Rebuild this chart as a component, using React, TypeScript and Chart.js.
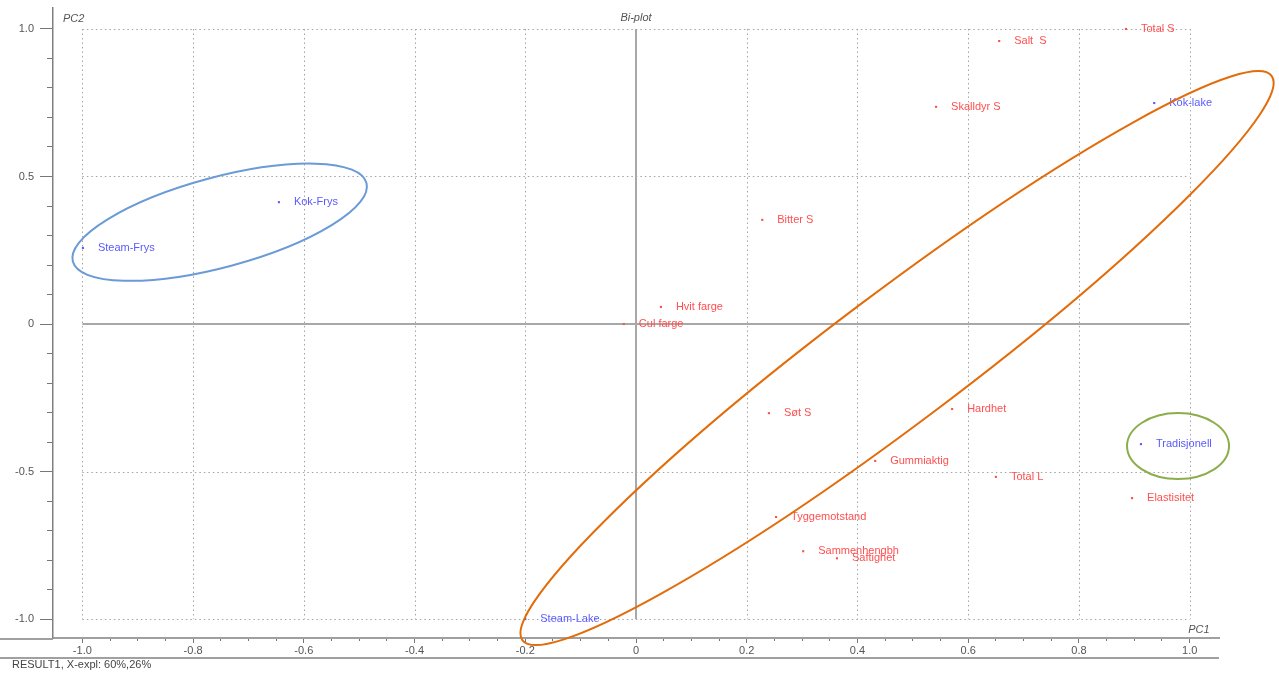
import React, { useEffect, useRef } from 'react';
import { Chart, registerables } from 'chart.js';

Chart.register(...registerables);

// ---- data ----
const variableNames = [
  'Total S', 'Salt  S', 'Skalldyr S', 'Bitter S', 'Hvit farge', 'Cul farge', 'Søt S',
  'Hardhet', 'Gummiaktig', 'Total L', 'Elastisitet', 'Tyggemotstand', 'Sammenhengbh', 'Saftighet',
];
const variablePC1 = [0.885, 0.656, 0.542, 0.228, 0.045, -0.022, 0.24, 0.571, 0.432, 0.65, 0.896, 0.253, 0.302, 0.363];
const variablePC2 = [1.0, 0.959, 0.736, 0.353, 0.058, 0.0, -0.302, -0.288, -0.464, -0.518, -0.59, -0.654, -0.77, -0.794];

const sampleNames = ['Kok-lake', 'Kok-Frys', 'Steam-Frys', 'Tradisjonell', 'Steam-Lake'];
const samplePC1 = [0.936, -0.645, -0.999, 0.912, -0.2];
const samplePC2 = [0.749, 0.413, 0.258, -0.407, -1.0];

// ---- axes / ticks ----
const xMajorTicks = [-1.0, -0.8, -0.6, -0.4, -0.2, 0, 0.2, 0.4, 0.6, 0.8, 1.0];
const xMinorStep = 0.05;
const yMajorTicks = [-1.0, -0.5, 0, 0.5, 1.0];
const yMinorStep = 0.1;
const gridXValues = [-1.0, -0.8, -0.6, -0.4, -0.2, 0.2, 0.4, 0.6, 0.8, 1.0];
const gridYValues = [-1.0, -0.5, 0.5, 1.0];
const xRange = [-1.053, 1.053];
const yRange = [-1.064, 1.071];

const titleText = 'Bi-plot';
const xAxisName = 'PC1';
const yAxisName = 'PC2';
const footerText = 'RESULT1, X-expl: 60%,26%';

// ---- annotation ellipses (center in data units, radii in px, angle in degrees) ----
const ellipseCenterPC1 = [-0.752, 0.4715, 0.979];
const ellipseCenterPC2 = [0.345, -0.1153, -0.4136];
const ellipseRadiusX = [152, 469, 51];
const ellipseRadiusY = [45, 65, 33];
const ellipseAngle = [-15, -37, 0];
const ellipseColors = ['#6b9bd6', '#e36c0a', '#8cae4a'];

const RED = '#ff4f4f';
const BLUE = '#5a5aff';
const FONT = '"Liberation Sans", Arial, sans-serif';

function stepTicks(min: number, max: number, step: number): number[] {
  const out: number[] = [];
  const n = Math.round((max - min) / step);
  for (let i = 0; i <= n; i++) out.push(Math.round((min + i * step) * 1000) / 1000);
  return out;
}
const isIn = (arr: number[], v: number) => arr.some((a) => Math.abs(a - v) < 1e-6);
const fmt = (v: number) => (Math.abs(v) < 1e-9 ? '0' : v.toFixed(1));

const gridPlugin = {
  id: 'biplotGrid',
  beforeDatasetsDraw(chart: any) {
    const { ctx, scales } = chart;
    const xs = scales.x, ys = scales.y;
    ctx.save();
    ctx.strokeStyle = '#a4a4a4';
    ctx.lineWidth = 1;
    ctx.setLineDash([1.5, 3]);
    const yTop = ys.getPixelForValue(1), yBot = ys.getPixelForValue(-1);
    const xL = xs.getPixelForValue(-1), xR = xs.getPixelForValue(1);
    gridXValues.forEach((v) => {
      const px = Math.round(xs.getPixelForValue(v)) + 0.5;
      ctx.beginPath(); ctx.moveTo(px, yTop); ctx.lineTo(px, yBot); ctx.stroke();
    });
    gridYValues.forEach((v) => {
      const py = Math.round(ys.getPixelForValue(v)) + 0.5;
      ctx.beginPath(); ctx.moveTo(xL, py); ctx.lineTo(xR, py); ctx.stroke();
    });
    ctx.setLineDash([]);
    ctx.strokeStyle = '#a8a8a8';
    ctx.lineWidth = 2;
    const x0 = xs.getPixelForValue(0), y0 = ys.getPixelForValue(0);
    ctx.beginPath(); ctx.moveTo(xL, y0); ctx.lineTo(xR, y0); ctx.stroke();
    ctx.beginPath(); ctx.moveTo(x0, yTop); ctx.lineTo(x0, yBot); ctx.stroke();
    ctx.restore();
  },
};

const labelPlugin = {
  id: 'pointLabels',
  afterDatasetsDraw(chart: any) {
    const { ctx } = chart;
    ctx.save();
    ctx.font = `11px ${FONT}`;
    ctx.textBaseline = 'middle';
    ctx.textAlign = 'left';
    chart.data.datasets.forEach((ds: any, di: number) => {
      const meta = chart.getDatasetMeta(di);
      ctx.fillStyle = ds.borderColor;
      meta.data.forEach((pt: any, i: number) => {
        ctx.fillText(ds.names[i], pt.x + 15, pt.y);
      });
    });
    ctx.restore();
  },
};

const decorPlugin = {
  id: 'decor',
  afterDraw(chart: any) {
    const { ctx, scales, chartArea } = chart;
    const xs = scales.x, ys = scales.y;
    ctx.save();
    // extra axis lines
    ctx.strokeStyle = '#a0a0a0';
    ctx.lineWidth = 2;
    ctx.beginPath(); ctx.moveTo(0, chartArea.bottom + 1); ctx.lineTo(chartArea.left, chartArea.bottom + 1); ctx.stroke();
    ctx.beginPath(); ctx.moveTo(0, chartArea.bottom + 20); ctx.lineTo(chartArea.right, chartArea.bottom + 20); ctx.stroke();

    // texts
    ctx.fillStyle = '#555';
    ctx.font = `italic 11px ${FONT}`;
    ctx.textBaseline = 'middle';
    ctx.textAlign = 'left';
    ctx.fillText(yAxisName, chartArea.left + 10, ys.getPixelForValue(1) - 10);
    ctx.textAlign = 'center';
    ctx.fillText(titleText, xs.getPixelForValue(0), ys.getPixelForValue(1) - 11);
    ctx.textAlign = 'right';
    ctx.fillText(xAxisName, xs.getPixelForValue(1) + 20, chartArea.bottom - 8);
    ctx.font = `11px ${FONT}`;
    ctx.fillStyle = '#444';
    ctx.textAlign = 'left';
    ctx.fillText(footerText, 12, chartArea.bottom + 27);

    // ellipses
    ctx.lineWidth = 2;
    ellipseCenterPC1.forEach((cx, i) => {
      ctx.strokeStyle = ellipseColors[i];
      ctx.beginPath();
      ctx.ellipse(
        xs.getPixelForValue(cx), ys.getPixelForValue(ellipseCenterPC2[i]),
        ellipseRadiusX[i], ellipseRadiusY[i], (ellipseAngle[i] * Math.PI) / 180, 0, Math.PI * 2,
      );
      ctx.stroke();
    });
    ctx.restore();
  },
};

export default function App() {
  const ref = useRef<HTMLCanvasElement>(null);
  useEffect(() => {
    const xTicks = stepTicks(xMajorTicks[0], xMajorTicks[xMajorTicks.length - 1], xMinorStep);
    const yTicks = stepTicks(yMajorTicks[0], yMajorTicks[yMajorTicks.length - 1], yMinorStep);
    const chart = new Chart(ref.current as HTMLCanvasElement, {
      type: 'scatter',
      data: {
        datasets: [
          {
            label: 'Variables',
            data: variablePC1.map((x, i) => ({ x, y: variablePC2[i] })),
            names: variableNames,
            backgroundColor: RED,
            borderColor: RED,
            pointStyle: 'rect',
            pointRadius: 1.5,
            borderWidth: 0,
          } as any,
          {
            label: 'Samples',
            data: samplePC1.map((x, i) => ({ x, y: samplePC2[i] })),
            names: sampleNames,
            backgroundColor: BLUE,
            borderColor: BLUE,
            pointStyle: 'rect',
            pointRadius: 1.5,
            borderWidth: 0,
          } as any,
        ],
      },
      options: {
        animation: false,
        responsive: false,
        devicePixelRatio: 1,
        layout: { padding: { left: 0, top: 8, right: 60, bottom: 0 } },
        plugins: { legend: { display: false }, tooltip: { enabled: false } },
        events: [],
        scales: {
          x: {
            type: 'linear',
            min: xRange[0],
            max: xRange[1],
            afterBuildTicks: (scale: any) => { scale.ticks = xTicks.map((v) => ({ value: v })); },
            afterFit: (scale: any) => {
              scale.height = 37;
              scale.paddingLeft = 0;
              scale.paddingRight = 0;
            },
            ticks: {
              autoSkip: false,
              maxRotation: 0,
              minRotation: 0,
              padding: 1,
              color: '#555',
              font: { family: FONT, size: 11 },
              callback: (v: any) => (isIn(xMajorTicks, Number(v)) ? fmt(Number(v)) : ''),
            },
            grid: {
              display: true,
              drawOnChartArea: false,
              drawTicks: true,
              tickLength: 5,
              tickColor: '#777',
              tickWidth: 1,
              tickBorderDash: (ctx: any) => (isIn(xMajorTicks, ctx.tick.value) ? [] : [2, 20]),
            },
            border: { display: true, color: '#a0a0a0', width: 2 },
          },
          y: {
            type: 'linear',
            min: yRange[0],
            max: yRange[1],
            afterBuildTicks: (scale: any) => { scale.ticks = yTicks.map((v) => ({ value: v })); },
            afterFit: (scale: any) => {
              scale.width = 53;
              scale.paddingTop = 0;
              scale.paddingBottom = 0;
            },
            ticks: {
              autoSkip: false,
              padding: 6,
              color: '#555',
              font: { family: FONT, size: 11 },
              callback: (v: any) => (isIn(yMajorTicks, Number(v)) ? fmt(Number(v)) : ''),
            },
            grid: {
              display: true,
              drawOnChartArea: false,
              drawTicks: true,
              tickLength: 13,
              tickColor: '#777',
              tickWidth: 1,
              tickBorderDash: (ctx: any) => (isIn(yMajorTicks, ctx.tick.value) ? [] : [0, 7, 6, 100]),
            },
            border: { display: true, color: '#808080', width: 1.5 },
          },
        },
      } as any,
      plugins: [gridPlugin, labelPlugin, decorPlugin],
    });
    return () => chart.destroy();
  }, []);
  return (
    <div style={{ position: 'fixed', left: 0, top: 0, width: 1279, height: 675, background: '#fff' }}>
      <canvas ref={ref} width={1279} height={675} style={{ display: 'block' }} />
    </div>
  );
}
